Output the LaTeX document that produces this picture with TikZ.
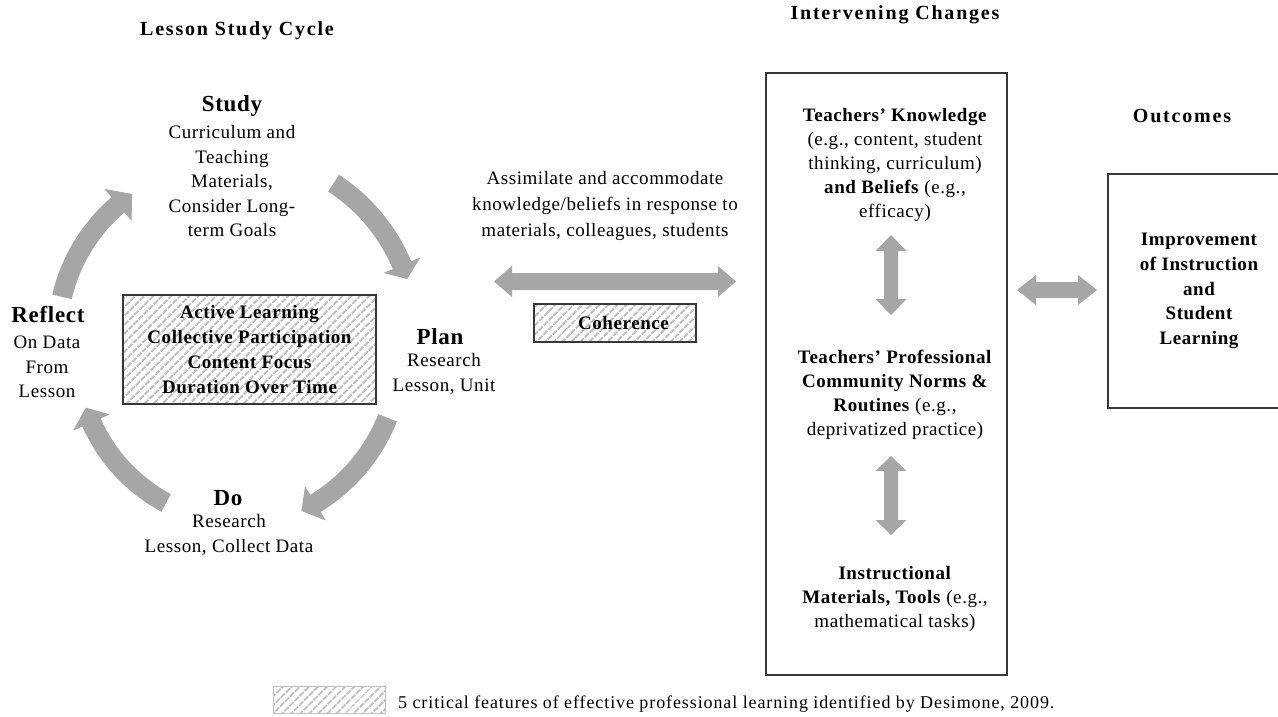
\documentclass[tikz,border=0pt]{standalone}
\usepackage{fontspec}
\setmainfont{Liberation Serif}[LetterSpace=3]
\usetikzlibrary{calc,patterns.meta}
\definecolor{arrowgray}{RGB}{166,166,166}
\definecolor{hatchgray}{RGB}{188,188,188}
\definecolor{boxline}{RGB}{55,55,55}
\definecolor{swatchline}{RGB}{190,190,190}

\tikzset{
  arrowfill/.style={fill=arrowgray, draw=none},
  hatchbox/.style={draw=boxline, line width=1.3pt,
    pattern={Lines[angle=45,distance=6.5pt,line width=2pt]}, pattern color=hatchgray},
  plainbox/.style={draw=boxline, line width=1.3pt},
  bodytxt/.style={align=center, inner sep=0pt, font=\fontsize{19}{24.5}\selectfont},
  rtxt/.style={align=center, inner sep=0pt, font=\fontsize{19}{24}\selectfont},
  headtxt/.style={inner sep=0pt, font=\bfseries\fontsize{23}{28}\selectfont},
  titletxt/.style={inner sep=0pt, font=\bfseries\fontsize{20}{24}\selectfont\addfontfeatures{LetterSpace=9}},
  boldtxt/.style={align=center, inner sep=0pt, font=\bfseries\fontsize{19}{24.7}\selectfont},
}

% horizontal double arrow: #1 left tip, #2 right tip, #3 head length, #4 head half width, #5 shaft half width
\newcommand\dblH[5]{%
  \fill[arrowfill] (#1) -- ($(#1)+(#3,#4)$) -- ($(#1)+(#3,#5)$) -- ($(#2)+(-#3,#5)$)
    -- ($(#2)+(-#3,#4)$) -- (#2) -- ($(#2)+(-#3,-#4)$) -- ($(#2)+(-#3,-#5)$)
    -- ($(#1)+(#3,-#5)$) -- ($(#1)+(#3,-#4)$) -- cycle;}
% vertical double arrow: #1 top tip, #2 bottom tip
\newcommand\dblV[5]{%
  \fill[arrowfill] (#1) -- ($(#1)+(#4,-#3)$) -- ($(#1)+(#5,-#3)$) -- ($(#2)+(#5,#3)$)
    -- ($(#2)+(#4,#3)$) -- (#2) -- ($(#2)+(-#4,#3)$) -- ($(#2)+(-#5,#3)$)
    -- ($(#1)+(-#5,-#3)$) -- ($(#1)+(-#4,-#3)$) -- cycle;}
% curved arrow: #1 centre, #2 radius, #3 start angle, #4 head base angle, #5 tip angle, #6 shaft half width, #7 head half width
\newcommand\curvArrow[7]{%
  \pgfmathsetmacro\arRo{#2+#6}\pgfmathsetmacro\arRi{#2-#6}%
  \pgfmathsetmacro\arHo{#2+#7}\pgfmathsetmacro\arHi{#2-#7}%
  \fill[arrowfill] ($(#1)+(#3:\arRo)$) arc[start angle=#3, end angle=#4, radius=\arRo]
    -- ($(#1)+(#4:\arHo)$) -- ($(#1)+(#5:#2)$) -- ($(#1)+(#4:\arHi)$)
    -- ($(#1)+(#4:\arRi)$) arc[start angle=#4, end angle=#3, radius=\arRi] -- cycle;}

\begin{document}
\begin{tikzpicture}[x=1pt,y=1pt]
\useasboundingbox (0,0) rectangle (1278,-717);
\clip (0,0) rectangle (1278,-717);

% titles
\node[titletxt] (t1) at (237,-31) {Lesson Study Cycle};
\node[titletxt] (t2) at (895,-15) {Intervening Changes};
\node[titletxt] (t3) at (1182,-116) {Outcomes};

% lesson study cycle
\node[headtxt] (studyH) at (232,-106) {Study};
\node[bodytxt] (studyB) at (232,-181) {Curriculum and\\Teaching\\Materials,\\Consider Long-\\term Goals};
\node[headtxt] (planH) at (440,-337) {Plan};
\node[bodytxt] (planB) at (444,-374) {Research\\Lesson, Unit};
\node[headtxt] (doH) at (228,-498) {Do};
\node[bodytxt] (doB) at (229,-535) {Research\\Lesson, Collect Data};
\node[headtxt] (reflH) at (48,-315) {Reflect};
\node[bodytxt] (reflB) at (47,-367) {On Data\\From\\Lesson};

\node[hatchbox, boldtxt, minimum width=253pt, minimum height=109pt] (features) at (249.5,-349.5)
  {Active Learning\\Collective Participation\\Content Focus\\Duration Over Time};

\coordinate (c1) at (235,-335);
\coordinate (c2) at (224,-353);
\coordinate (c3) at (246,-354);
\coordinate (c4) at (230,-336);
\curvArrow{c1}{181}{57}{22.7}{18.0}{10}{20}
\curvArrow{c2}{176}{-21.6}{-58.7}{-63.9}{10}{20}
\curvArrow{c3}{169}{-118.2}{-156.1}{-161.5}{10}{20}
\curvArrow{c4}{172.5}{166.9}{130.5}{124.6}{10}{21}

% middle
\node[bodytxt, font=\fontsize{19}{26}\selectfont] (assim) at (605,-206)
  {Assimilate and accommodate\\knowledge/beliefs in response to\\materials, colleagues, students};
\coordinate (mL) at (494,-281.5);
\coordinate (mR) at (736,-281.5);
\dblH{mL}{mR}{18}{15.5}{8.5}
\node[hatchbox, boldtxt, minimum width=162pt, minimum height=38pt] (coher) at (615,-323)
  {\hspace*{17pt}Coherence};

% intervening changes
\node[plainbox, minimum width=241pt, minimum height=602pt, inner sep=0pt] (changes) at (886.5,-374) {};
\node[rtxt] (know) at (895,-165)
  {\textbf{Teachers’ Knowledge}\\(e.g., content, student\\thinking, curriculum)\\\textbf{and Beliefs} (e.g.,\\efficacy)};
\node[rtxt] (comm) at (895,-395)
  {\textbf{Teachers’ Professional}\\\textbf{Community Norms \&}\\\textbf{Routines} (e.g.,\\deprivatized practice)};
\node[rtxt] (instr) at (895,-599)
  {\textbf{Instructional}\\\textbf{Materials, Tools} (e.g.,\\mathematical tasks)};
\coordinate (v1t) at (891,-235);
\coordinate (v1b) at (891,-315);
\dblV{v1t}{v1b}{16}{15.5}{7}
\coordinate (v2t) at (891,-456);
\coordinate (v2b) at (891,-535);
\dblV{v2t}{v2b}{15}{15.5}{7}

% outcomes
\coordinate (oL) at (1017,-290);
\coordinate (oR) at (1097,-290);
\dblH{oL}{oR}{19}{15}{8}
\node[plainbox, boldtxt, minimum width=182pt, minimum height=234pt] (outc) at (1199,-291)
  {Improvement\\of Instruction\\and\\Student\\Learning};

% legend
\node[draw=swatchline, line width=1pt, pattern={Lines[angle=45,distance=6.5pt,line width=2pt]},
  pattern color=hatchgray, minimum width=112pt, minimum height=27pt, inner sep=0pt] (swatch) at (329,-699.5) {};
\node[inner sep=0pt, anchor=west, font=\fontsize{18}{22}\selectfont\addfontfeatures{LetterSpace=5}] (legtxt) at (398,-704)
  {5 critical features of effective professional learning identified by Desimone, 2009.};
\end{tikzpicture}
\end{document}
